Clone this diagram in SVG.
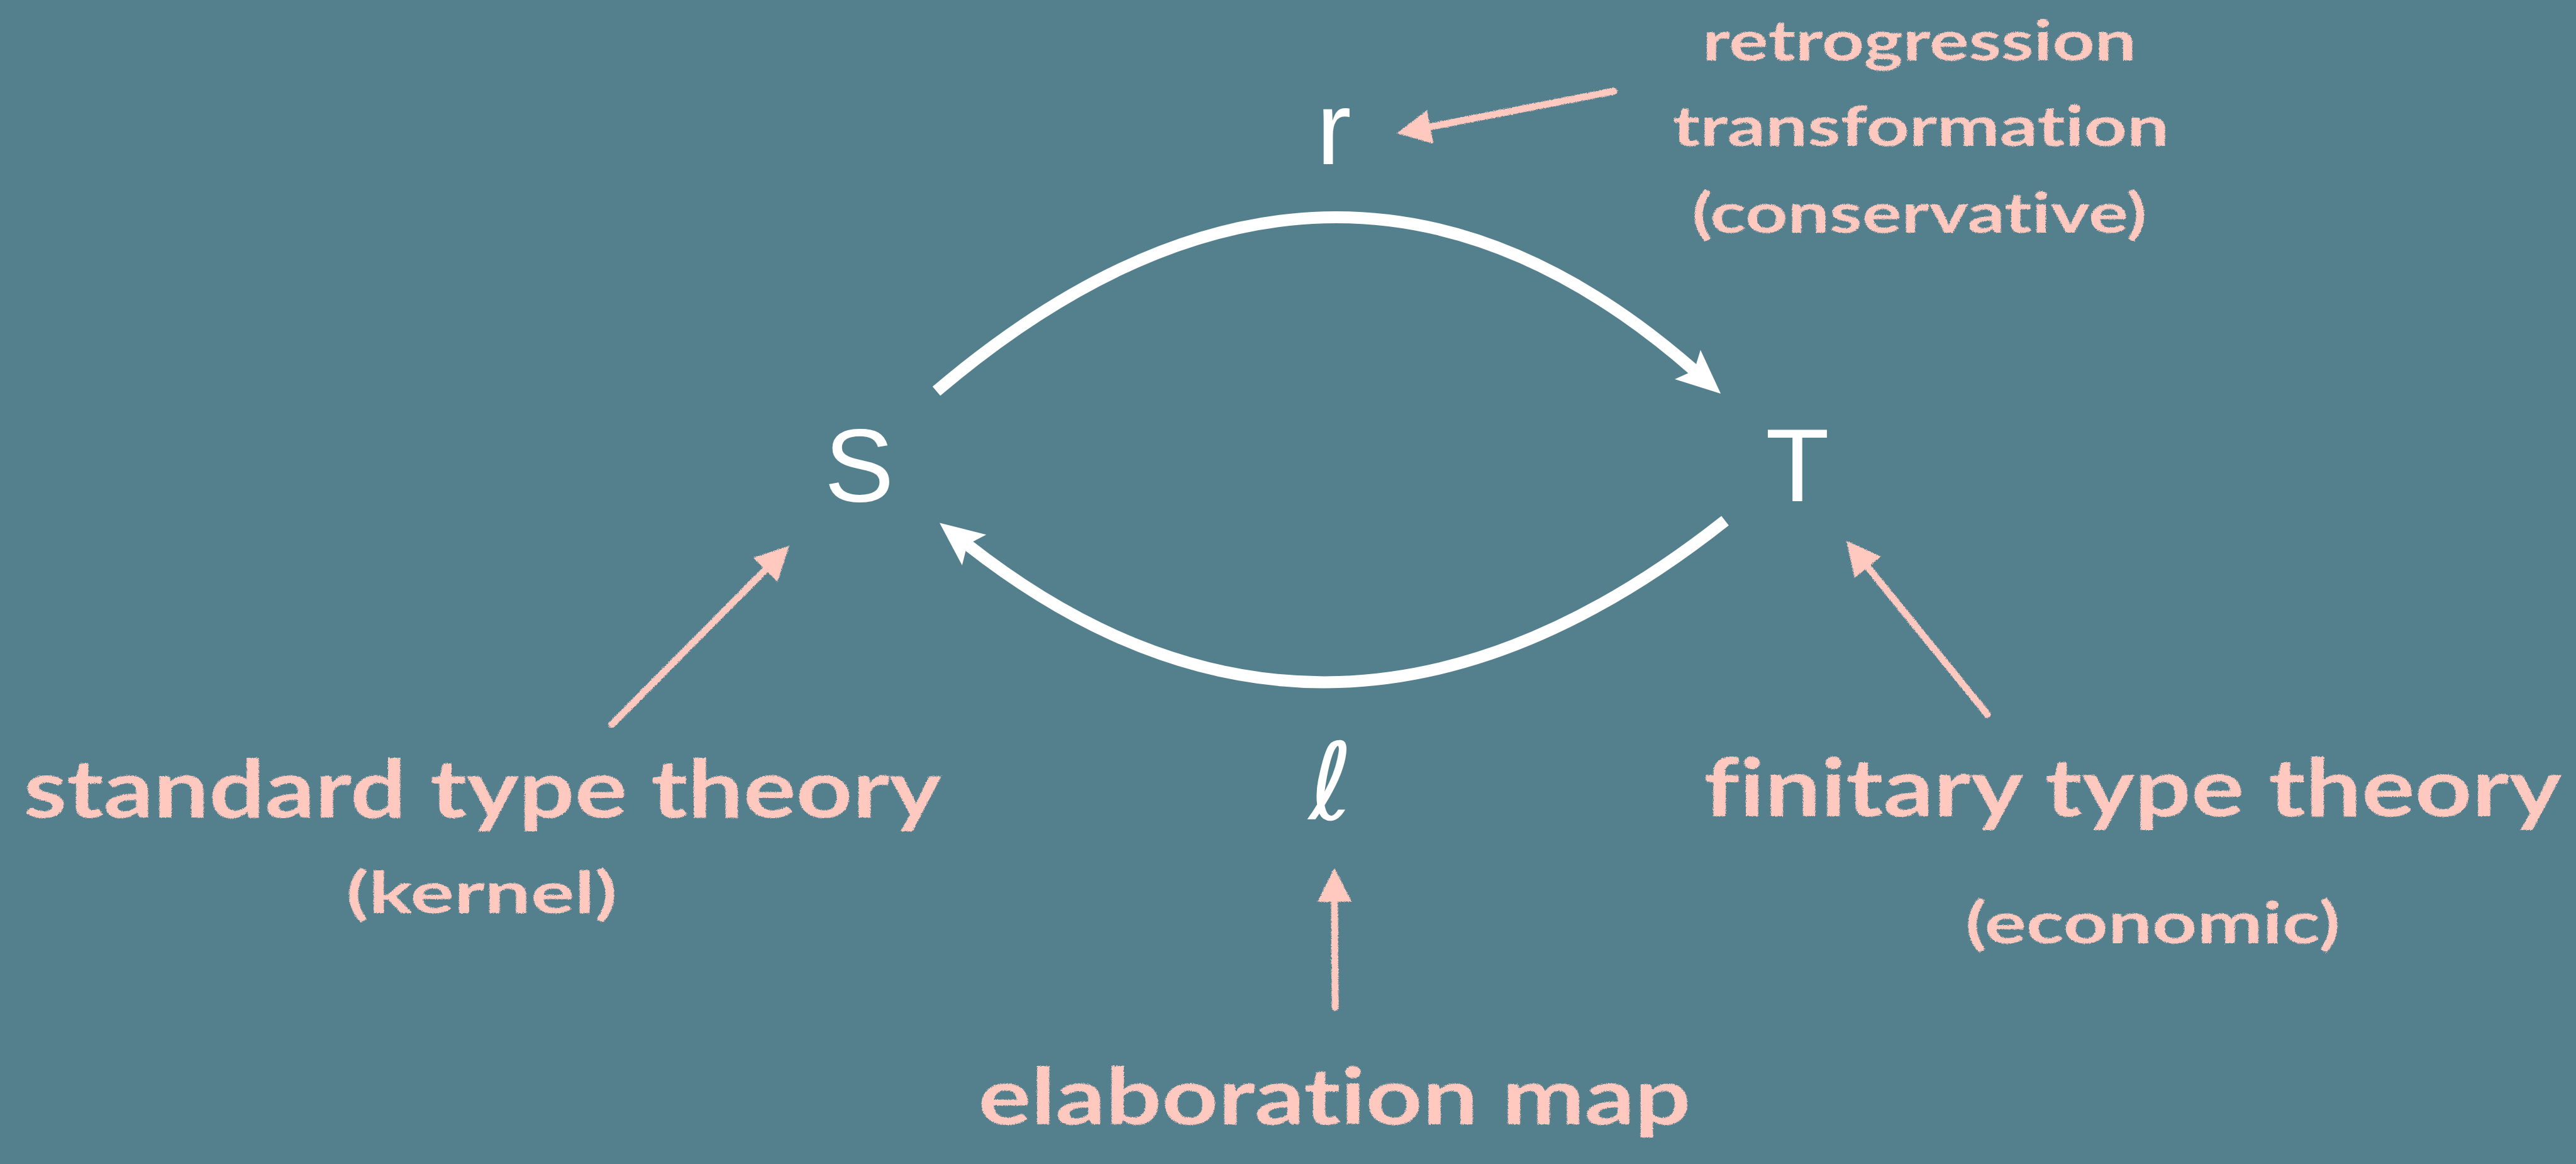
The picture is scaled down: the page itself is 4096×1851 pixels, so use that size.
<svg xmlns="http://www.w3.org/2000/svg" width="4096" height="1851" viewBox="0 0 4096 1851">
  <style>
    .node { fill: #ffffff; font-family: "Liberation Sans", "DejaVu Sans", sans-serif; font-size: 166px; text-anchor: middle; }
    .script { fill: #ffffff; font-family: "DejaVu Sans", sans-serif; font-size: 170px; text-anchor: middle; }
    .chalk { fill: #ffc9c0; font-family: "Lato", "Open Sans", sans-serif; font-weight: bold; text-anchor: middle; font-variant-ligatures: none; font-feature-settings: "liga" 0, "dlig" 0; }
    .arc { fill: none; stroke: #ffffff; stroke-width: 19; stroke-linecap: butt; }
    .note { fill: none; stroke: #ffc9c0; stroke-width: 11; stroke-linecap: round; }
  </style>
  <defs>
    <marker id="whiteHead" markerUnits="userSpaceOnUse" viewBox="-18 -34 80 68" refX="0" refY="0" markerWidth="80" markerHeight="68" orient="auto">
      <path d="M56,0 L-14,-31 L0,0 L-14,31 Z" fill="#ffffff"/>
    </marker>
    <marker id="chalkHead" markerUnits="userSpaceOnUse" viewBox="-2 -30 60 60" refX="0" refY="0" markerWidth="60" markerHeight="60" orient="auto">
      <path d="M0,-27 L54,0 L0,27 Z" fill="#ffc9c0"/>
    </marker>
    <filter id="rough" x="-5%" y="-20%" width="110%" height="140%">
      <feTurbulence type="fractalNoise" baseFrequency="0.9" numOctaves="2" seed="3" result="n"/>
      <feDisplacementMap in="SourceGraphic" in2="n" scale="5" xChannelSelector="R" yChannelSelector="G"/>
    </filter>
  </defs>
  <rect x="0" y="0" width="4096" height="1851" fill="#54808e"/>

  <g id="connectors">
    <path id="arc-r" class="arc" d="M1489,622 Q2120,86 2694,589" marker-end="url(#whiteHead)"/>
    <path id="arc-l" class="arc" d="M2743,828 Q2118,1322 1538,866" marker-end="url(#whiteHead)"/>
    <g filter="url(#rough)">
      <line class="note" x1="2566" y1="145" x2="2274" y2="201.7" marker-end="url(#chalkHead)"/>
      <line class="note" x1="973" y1="1152" x2="1217" y2="906" marker-end="url(#chalkHead)"/>
      <line class="note" x1="3160" y1="1136" x2="2970" y2="902" marker-end="url(#chalkHead)"/>
      <line class="note" x1="2123" y1="1602" x2="2122" y2="1434" marker-end="url(#chalkHead)"/>
    </g>
  </g>

  <g id="node-S"><text class="node" x="1366" y="797">S</text></g>
  <g id="node-T"><text class="node" x="2858" y="797">T</text></g>
  <g id="label-r"><text class="node" x="2121" y="261">r</text></g>
  <g id="label-l"><text class="script" x="2116" y="1303">ℓ</text></g>

  <g id="note-retrogression" filter="url(#rough)">
    <text class="chalk" x="3052" y="96" font-size="88" textLength="690" lengthAdjust="spacingAndGlyphs">retrogression</text>
    <text class="chalk" x="3054" y="232" font-size="88" textLength="790" lengthAdjust="spacingAndGlyphs">transformation</text>
    <text class="chalk" x="3052" y="370" font-size="88" textLength="723" lengthAdjust="spacingAndGlyphs">(conservative)</text>
  </g>
  <g id="note-standard" filter="url(#rough)">
    <text class="chalk" x="767" y="1300" font-size="128" textLength="1459" lengthAdjust="spacingAndGlyphs">standard type theory</text>
    <text class="chalk" x="766" y="1452" font-size="92" textLength="431" lengthAdjust="spacingAndGlyphs">(kernel)</text>
  </g>
  <g id="note-finitary" filter="url(#rough)">
    <text class="chalk" x="3391" y="1298" font-size="128" textLength="1364" lengthAdjust="spacingAndGlyphs">finitary type theory</text>
    <text class="chalk" x="3423" y="1500" font-size="92" textLength="596" lengthAdjust="spacingAndGlyphs">(economic)</text>
  </g>
  <g id="note-elaboration" filter="url(#rough)">
    <text class="chalk" x="2122" y="1788" font-size="124" textLength="1133" lengthAdjust="spacingAndGlyphs">elaboration map</text>
  </g>
</svg>
